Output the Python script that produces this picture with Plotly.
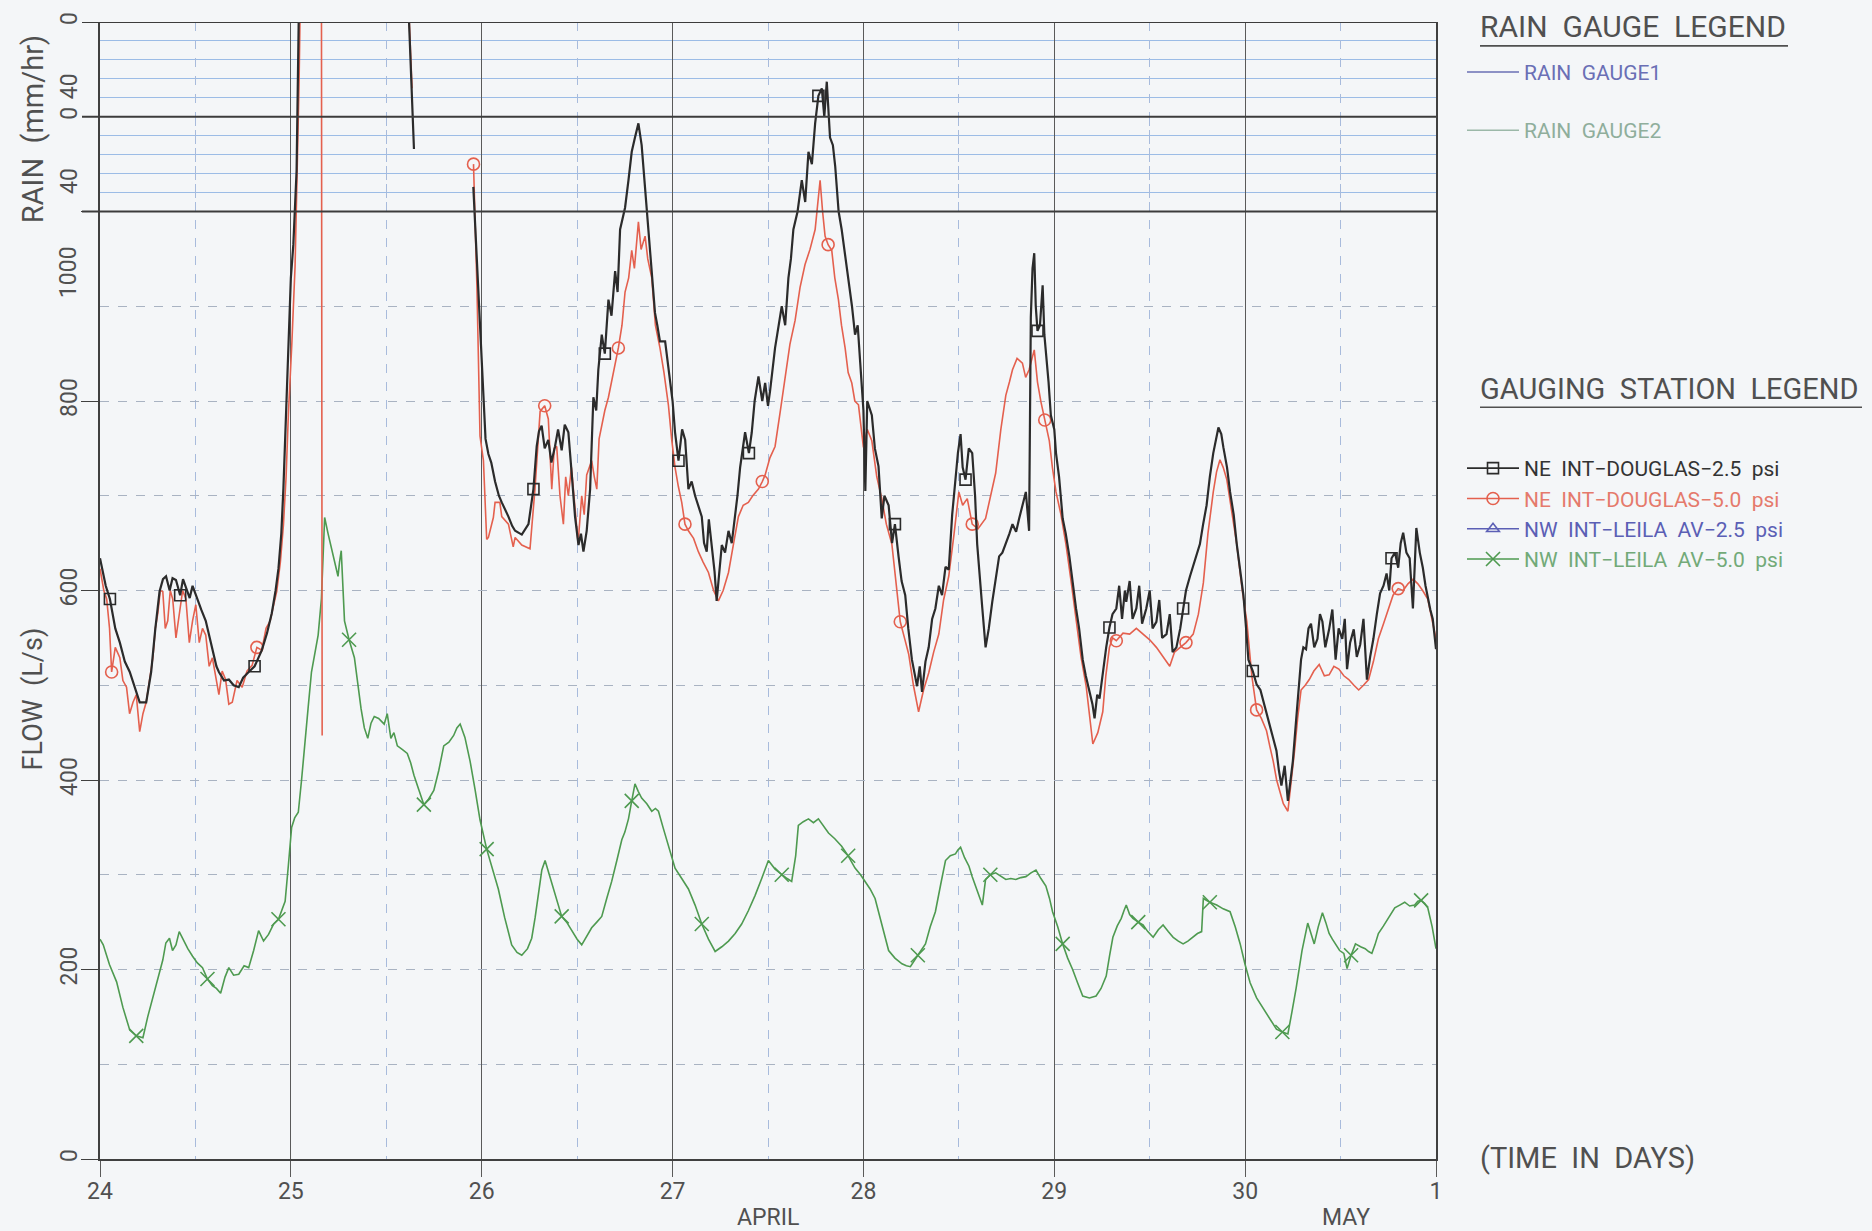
import numpy as np
import plotly.graph_objects as go

# ---------------- data ----------------
# NE INT-DOUGLAS-2.5 psi (black, square markers); None = gap in the record
ne25_day = [
    24.000, 24.030, 24.052, 24.080, 24.104, 24.130, 24.156, 24.185, 24.208, 24.242, 24.268, 24.290,
    24.312, 24.330, 24.346, 24.365, 24.380, 24.398, 24.420, 24.435, 24.450, 24.470, 24.485, 24.502,
    24.530, 24.554, 24.575, 24.589, 24.610, 24.623, 24.650, 24.675, 24.700, 24.727, 24.750, 24.779,
    24.810, 24.848, 24.875, 24.900, 24.920, 24.935, 24.950, 24.961, 24.975, 24.987, 25.000, 25.013,
    25.030, 25.042, 25.060, 25.600, 25.645, None,
    25.956, 25.983, 26.009, 26.020, 26.035, 26.050, 26.070, 26.090, 26.105, 26.125, 26.140, 26.160,
    26.175, 26.210, 26.245, 26.271, 26.288, 26.300, 26.314, 26.330, 26.349, 26.365, 26.384, 26.400,
    26.419, 26.435, 26.454, 26.472, 26.489, 26.507, 26.520, 26.533, 26.550, 26.568, 26.585, 26.600,
    26.611, 26.629, 26.645, 26.664, 26.680, 26.699, 26.712, 26.725, 26.751, 26.769, 26.786, 26.803,
    26.821, 26.838, 26.850, 26.865, 26.882, 26.895, 26.908, 26.920, 26.934, 26.961, 26.975, 26.987,
    27.000, 27.013, 27.031, 27.050, 27.066, 27.083, 27.100, 27.118, 27.135, 27.153, 27.165, 27.179,
    27.190, 27.205, 27.220, 27.231, 27.245, 27.258, 27.275, 27.293, 27.310, 27.328, 27.340, 27.354,
    27.380, 27.400, 27.415, 27.430, 27.450, 27.470, 27.485, 27.500, 27.511, 27.537, 27.555, 27.572,
    27.590, 27.607, 27.620, 27.633, 27.655, 27.677, 27.695, 27.712, 27.730, 27.747, 27.764, 27.782,
    27.795, 27.808, 27.825, 27.840, 27.852, 27.870, 27.886, 27.900, 27.921, 27.940, 27.956, 27.970,
    27.983, 28.000, 28.010, 28.020, 28.044, 28.060, 28.079, 28.096, 28.110, 28.132, 28.150, 28.165,
    28.184, 28.200, 28.219, 28.235, 28.254, 28.268, 28.281, 28.295, 28.307, 28.325, 28.342, 28.360,
    28.377, 28.395, 28.412, 28.430, 28.447, 28.465, 28.482, 28.495, 28.509, 28.520, 28.535, 28.552,
    28.570, 28.585, 28.596, 28.610, 28.623, 28.640, 28.657, 28.675, 28.693, 28.711, 28.728, 28.746,
    28.765, 28.781, 28.800, 28.816, 28.835, 28.851, 28.868, 28.877, 28.886, 28.895, 28.903, 28.912,
    28.925, 28.939, 28.948, 28.956, 28.970, 28.982, 29.000, 29.009, 29.025, 29.044, 29.060, 29.079,
    29.095, 29.114, 29.130, 29.149, 29.165, 29.184, 29.200, 29.211, 29.225, 29.237, 29.255, 29.272,
    29.289, 29.305, 29.325, 29.340, 29.355, 29.370, 29.377, 29.395, 29.410, 29.430, 29.445, 29.460,
    29.482, 29.500, 29.515, 29.535, 29.550, 29.565, 29.588, 29.605, 29.620, 29.640, 29.660, 29.675,
    29.690, 29.711, 29.735, 29.763, 29.780, 29.798, 29.815, 29.833, 29.860, 29.875, 29.886, 29.905,
    29.921, 29.940, 29.956, 29.975, 29.991, 30.005, 30.017, 30.040, 30.060, 30.080, 30.095, 30.112,
    30.129, 30.145, 30.164, 30.177, 30.190, 30.207, 30.224, 30.238, 30.250, 30.267, 30.280, 30.293,
    30.305, 30.319, 30.332, 30.345, 30.362, 30.379, 30.392, 30.405, 30.420, 30.440, 30.457, 30.474,
    30.490, 30.509, 30.522, 30.534, 30.550, 30.569, 30.585, 30.603, 30.620, 30.638, 30.655, 30.672,
    30.690, 30.707, 30.725, 30.741, 30.755, 30.767, 30.785, 30.802, 30.815, 30.828, 30.845, 30.862,
    30.879, 30.897, 30.915, 30.931, 30.945, 30.957, 30.970, 30.983, 31.000,
]
ne25_flow = [
    634, 605, 591, 560, 545, 525, 514, 495, 482, 482, 514, 560,
    599, 612, 615, 600, 613, 611, 595, 612, 603, 592, 605, 595,
    580, 568, 550, 537, 520, 514, 505, 506, 500, 498, 508, 514,
    520, 537, 555, 576, 600, 623, 660, 708, 790, 864, 930, 965,
    1043, 1214, 1300, 1300, 1066, None,
    1026, 907, 796, 760, 744, 735, 715, 700, 693, 685, 678, 668,
    663, 659, 670, 707, 752, 768, 774, 750, 759, 735, 752, 770,
    748, 775, 767, 722, 678, 648, 660, 641, 663, 707, 804, 790,
    833, 870, 850, 907, 890, 937, 915, 981, 1004, 1033, 1063, 1078,
    1093, 1070, 1040, 1004, 959, 935, 893, 880, 863, 863, 840, 826,
    800, 767, 737, 770, 759, 707, 715, 700, 690, 678, 650, 641,
    675, 648, 620, 589, 620, 648, 640, 663, 650, 678, 700, 730,
    767, 745, 767, 800, 826, 800, 819, 795, 811, 856, 880, 900,
    880, 930, 950, 981, 1000, 1033, 1010, 1063, 1050, 1093, 1122, 1130,
    1100, 1137, 1078, 1070, 1048, 1000, 981, 960, 930, 900, 870, 880,
    841, 790, 705, 800, 785, 750, 731, 676, 700, 690, 650, 670,
    636, 610, 595, 560, 527, 510, 499, 520, 493, 525, 540, 570,
    581, 605, 595, 625, 622, 680, 717, 745, 765, 730, 717, 750,
    745, 700, 649, 610, 581, 540, 560, 588, 610, 636, 640, 649,
    660, 670, 662, 676, 690, 704, 663, 888, 940, 956, 900, 874,
    880, 922, 870, 854, 820, 785, 770, 745, 720, 676, 660, 636,
    610, 581, 560, 527, 510, 493, 480, 465, 490, 486, 515, 540,
    561, 575, 581, 605, 570, 600, 588, 610, 570, 581, 605, 565,
    581, 600, 560, 567, 590, 550, 554, 575, 535, 540, 560, 581,
    600, 615, 630, 649, 670, 690, 720, 745, 772, 765, 751, 730,
    704, 680, 649, 620, 595, 560, 527, 515, 501, 495, 484, 470,
    458, 445, 431, 410, 394, 415, 378, 400, 420, 463, 500, 527,
    540, 538, 560, 565, 540, 549, 575, 567, 540, 559, 580, 527,
    560, 549, 570, 517, 545, 559, 530, 543, 570, 506, 530, 549,
    575, 597, 605, 618, 600, 634, 640, 624, 650, 661, 640, 634,
    581, 666, 640, 624, 605, 591, 580, 570, 538,
]

# NE INT-DOUGLAS-5.0 psi (red, circle markers)
ne50_day = [
    24.000, 24.020, 24.035, 24.050, 24.061, 24.080, 24.104, 24.120, 24.139, 24.155, 24.173, 24.190,
    24.208, 24.225, 24.242, 24.260, 24.277, 24.290, 24.303, 24.316, 24.329, 24.342, 24.355, 24.368,
    24.381, 24.398, 24.416, 24.433, 24.450, 24.468, 24.485, 24.502, 24.520, 24.537, 24.554, 24.572,
    24.589, 24.606, 24.623, 24.640, 24.658, 24.675, 24.693, 24.718, 24.745, 24.770, 24.797, 24.822,
    24.848, 24.870, 24.892, 24.910, 24.926, 24.945, 24.961, 24.975, 24.987, 25.005, 25.022, 25.043,
    25.055, 25.160, 25.164, None, 25.600, 25.635, None,
    25.957, 25.975, 25.991, 26.009, 26.026, 26.035, 26.061, 26.070, 26.095, 26.105, 26.140, 26.165,
    26.175, 26.210, 26.253, 26.279, 26.306, 26.330, 26.349, 26.367, 26.380, 26.393, 26.410, 26.428,
    26.440, 26.454, 26.470, 26.489, 26.505, 26.524, 26.537, 26.550, 26.576, 26.590, 26.603, 26.615,
    26.629, 26.645, 26.664, 26.690, 26.716, 26.735, 26.751, 26.770, 26.786, 26.800, 26.821, 26.835,
    26.856, 26.870, 26.891, 26.910, 26.934, 26.955, 26.978, 26.995, 27.013, 27.030, 27.048, 27.065,
    27.083, 27.110, 27.135, 27.160, 27.188, 27.215, 27.240, 27.265, 27.293, 27.320, 27.345, 27.370,
    27.397, 27.420, 27.450, 27.470, 27.485, 27.510, 27.537, 27.565, 27.590, 27.615, 27.642, 27.668,
    27.694, 27.720, 27.747, 27.760, 27.773, 27.786, 27.799, 27.815, 27.834, 27.850, 27.869, 27.885,
    27.904, 27.920, 27.939, 27.955, 27.974, 28.000, 28.020, 28.044, 28.070, 28.096, 28.120, 28.149,
    28.170, 28.193, 28.215, 28.237, 28.262, 28.289, 28.315, 28.342, 28.368, 28.395, 28.420, 28.447,
    28.475, 28.500, 28.520, 28.544, 28.570, 28.600, 28.640, 28.665, 28.693, 28.720, 28.746, 28.765,
    28.781, 28.805, 28.833, 28.850, 28.868, 28.895, 28.912, 28.930, 28.950, 28.974, 28.990, 29.009,
    29.035, 29.061, 29.088, 29.114, 29.140, 29.167, 29.185, 29.202, 29.228, 29.254, 29.270, 29.289,
    29.305, 29.325, 29.360, 29.395, 29.430, 29.465, 29.500, 29.535, 29.570, 29.605, 29.630, 29.658,
    29.690, 29.728, 29.755, 29.781, 29.805, 29.833, 29.850, 29.868, 29.885, 29.904, 29.930, 29.956,
    29.985, 30.009, 30.035, 30.060, 30.085, 30.112, 30.130, 30.147, 30.165, 30.181, 30.200, 30.224,
    30.240, 30.259, 30.275, 30.293, 30.315, 30.336, 30.360, 30.388, 30.415, 30.440, 30.465, 30.491,
    30.517, 30.543, 30.570, 30.595, 30.620, 30.647, 30.672, 30.698, 30.725, 30.750, 30.775, 30.802,
    30.828, 30.853, 30.880, 30.905, 30.930, 30.957, 30.980, 31.000,
]
ne50_flow = [
    623, 600, 591, 560, 514, 540, 529, 505, 498, 470, 482, 490,
    451, 470, 482, 505, 529, 560, 576, 600, 599, 560, 568, 600,
    591, 550, 576, 600, 591, 545, 568, 585, 545, 560, 553, 520,
    529, 510, 490, 515, 506, 480, 482, 505, 498, 515, 521, 540,
    537, 560, 568, 585, 599, 630, 669, 720, 786, 860, 942, 1136,
    1300, 1300, 447, None, 1300, 1130, None,
    1050, 920, 763, 737, 654, 656, 677, 693, 693, 678, 670, 646,
    656, 648, 644, 707, 789, 795, 781, 707, 750, 752, 700, 670,
    720, 700, 730, 685, 650, 700, 680, 722, 737, 720, 707, 760,
    774, 790, 804, 830, 856, 880, 915, 930, 959, 940, 989, 960,
    974, 950, 930, 880, 856, 830, 796, 760, 730, 710, 693, 670,
    663, 655, 641, 630, 619, 600, 589, 600, 619, 650, 678, 690,
    693, 700, 707, 715, 722, 740, 752, 790, 826, 860, 885, 920,
    944, 960, 981, 1010, 1033, 1000, 974, 965, 959, 930, 907, 880,
    856, 830, 819, 800, 796, 751, 770, 758, 720, 697, 670, 649,
    610, 567, 550, 533, 500, 472, 495, 513, 535, 554, 590, 615,
    660, 704, 690, 697, 670, 665, 676, 700, 724, 770, 806, 820,
    833, 845, 840, 825, 833, 854, 820, 799, 780, 758, 730, 704,
    680, 649, 610, 567, 530, 499, 470, 438, 450, 472, 510, 540,
    550, 547, 555, 554, 560, 554, 548, 540, 530, 520, 535, 540,
    545, 554, 575, 608, 660, 704, 725, 738, 730, 717, 685, 649,
    600, 567, 510, 474, 465, 452, 435, 420, 400, 388, 375, 367,
    395, 431, 465, 495, 500, 506, 515, 522, 510, 511, 520, 517,
    510, 506, 500, 495, 500, 506, 525, 549, 565, 581, 595, 602,
    600, 607, 612, 607, 600, 591, 570, 549,
]

# NW INT-LEILA AV-5.0 psi (green, x markers)
nw50_day = [
    24.000, 24.017, 24.050, 24.087, 24.120, 24.156, 24.190, 24.225, 24.250, 24.277, 24.303, 24.329,
    24.345, 24.364, 24.380, 24.398, 24.415, 24.433, 24.460, 24.485, 24.510, 24.537, 24.563, 24.589,
    24.610, 24.632, 24.655, 24.675, 24.700, 24.727, 24.755, 24.779, 24.805, 24.831, 24.857, 24.883,
    24.910, 24.935, 24.952, 24.970, 24.987, 25.004, 25.020, 25.039, 25.056, 25.074, 25.090, 25.108,
    25.125, 25.143, 25.160, 25.177, 25.195, 25.212, 25.230, 25.247, 25.255, 25.264, 25.281, 25.305,
    25.333, 25.350, 25.368, 25.385, 25.403, 25.420, 25.437, 25.460, 25.489, 25.505, 25.524, 25.540,
    25.558, 25.585, 25.610, 25.628, 25.645, 25.670, 25.697, 25.722, 25.749, 25.775, 25.801, 25.828,
    25.853, 25.870, 25.887, 25.912, 25.939, 25.965, 25.991, 26.026, 26.060, 26.087, 26.120, 26.157,
    26.185, 26.210, 26.240, 26.262, 26.280, 26.297, 26.315, 26.332, 26.355, 26.376, 26.398, 26.419,
    26.445, 26.472, 26.500, 26.524, 26.550, 26.576, 26.603, 26.629, 26.655, 26.681, 26.708, 26.734,
    26.750, 26.769, 26.786, 26.803, 26.820, 26.838, 26.865, 26.891, 26.910, 26.926, 26.950, 26.978,
    27.013, 27.048, 27.083, 27.118, 27.153, 27.188, 27.223, 27.258, 27.293, 27.328, 27.362, 27.397,
    27.432, 27.467, 27.502, 27.537, 27.572, 27.600, 27.624, 27.645, 27.659, 27.685, 27.712, 27.738,
    27.764, 27.790, 27.817, 27.850, 27.886, 27.920, 27.956, 27.985, 28.009, 28.035, 28.061, 28.095,
    28.132, 28.165, 28.202, 28.225, 28.246, 28.285, 28.325, 28.350, 28.377, 28.405, 28.430, 28.455,
    28.482, 28.495, 28.509, 28.530, 28.553, 28.570, 28.588, 28.605, 28.623, 28.640, 28.665, 28.693,
    28.720, 28.746, 28.772, 28.798, 28.825, 28.851, 28.878, 28.904, 28.930, 28.956, 28.975, 28.991,
    29.018, 29.044, 29.070, 29.096, 29.122, 29.149, 29.184, 29.219, 29.245, 29.272, 29.290, 29.307,
    29.330, 29.351, 29.365, 29.377, 29.395, 29.412, 29.440, 29.465, 29.490, 29.518, 29.545, 29.570,
    29.597, 29.623, 29.650, 29.675, 29.700, 29.728, 29.750, 29.772, 29.781, 29.815, 29.851, 29.885,
    29.921, 29.948, 29.974, 30.000, 30.026, 30.060, 30.095, 30.130, 30.164, 30.195, 30.224, 30.245,
    30.267, 30.298, 30.328, 30.345, 30.362, 30.383, 30.405, 30.422, 30.440, 30.457, 30.474, 30.495,
    30.517, 30.534, 30.555, 30.578, 30.605, 30.629, 30.647, 30.664, 30.680, 30.698, 30.725, 30.750,
    30.767, 30.784, 30.810, 30.836, 30.862, 30.888, 30.905, 30.922, 30.940, 30.957, 30.980, 31.000,
]
nw50_flow = [
    232, 226, 205, 187, 160, 136, 130, 128, 150, 171, 192, 210,
    228, 233, 220, 226, 240, 233, 222, 214, 207, 202, 190, 183,
    180, 175, 192, 202, 194, 195, 204, 202, 220, 241, 230, 237,
    248, 253, 262, 272, 310, 350, 360, 366, 400, 436, 475, 514,
    535, 553, 591, 677, 660, 646, 630, 615, 630, 642, 568, 548,
    529, 500, 475, 455, 444, 460, 467, 465, 459, 470, 444, 450,
    436, 432, 428, 418, 405, 390, 374, 380, 389, 410, 436, 440,
    447, 455, 459, 445, 420, 390, 358, 327, 305, 285, 255, 226,
    218, 215, 222, 233, 255, 278, 305, 315, 300, 285, 270, 256,
    250, 241, 232, 226, 235, 244, 250, 256, 275, 293, 315, 337,
    345, 359, 378, 396, 388, 381, 375, 367, 370, 367, 350, 330,
    307, 296, 285, 268, 248, 232, 219, 224, 230, 238, 248, 262,
    278, 296, 315, 306, 300, 296, 293, 320, 352, 356, 359, 355,
    359, 352, 344, 338, 330, 320, 307, 300, 293, 285, 275, 248,
    220, 212, 206, 204, 203, 215, 227, 245, 261, 290, 315, 320,
    322, 326, 329, 318, 309, 298, 288, 280, 268, 295, 300, 302,
    298, 295, 296, 295, 297, 298, 302, 305, 296, 288, 275, 261,
    245, 227, 212, 200, 186, 172, 170, 172, 180, 193, 215, 234,
    246, 254, 262, 268, 258, 254, 250, 247, 240, 234, 242, 247,
    240, 234, 230, 227, 230, 234, 238, 240, 275, 271, 268, 264,
    261, 245, 227, 205, 186, 170, 159, 147, 137, 134, 132, 155,
    180, 220, 249, 238, 227, 245, 260, 250, 238, 232, 227, 220,
    217, 201, 215, 227, 224, 222, 219, 217, 226, 238, 246, 254,
    260, 265, 268, 271, 267, 268, 272, 273, 270, 265, 245, 222,
]

# symbol positions (days) along each record
ne25_marker_days = [24.05, 24.42, 24.80, 26.27, 26.64, 27.03, 27.40, 27.76, 28.17, 28.53, 28.912,
                    29.29, 29.67, 30.04, 30.77]
ne50_marker_days = [24.06, 24.82, 25.957, 26.32, 26.72, 27.07, 27.46, 27.82, 28.19, 28.58, 28.94,
                    29.32, 29.70, 30.07, 30.80]
nw50_marker_days = [24.18, 24.55, 24.93, 25.30, 25.69, 26.04, 26.43, 26.79, 27.17, 27.56, 27.92,
                    28.29, 28.67, 29.05, 29.44, 29.81, 30.18, 30.55, 30.92]

# axis tick labels
day_tick_vals = [24, 25, 26, 27, 28, 29, 30, 31]
day_tick_text = ["24", "25", "26", "27", "28", "29", "30", "1"]
half_day_vals = [24.5, 25.5, 26.5, 27.5, 28.5, 29.5, 30.5]
flow_tick_vals = [0, 200, 400, 600, 800, 1000]
flow_tick_text = ["0", "200", "400", "600", "800", ""]
flow_minor_vals = [100, 300, 500, 700, 900]
rain_tick_vals = [0, 40]
rain_tick_text = ["0", "40"]
rain_max = 56
rain_grid_vals = [0, 11.2, 22.4, 33.6, 44.8]
flow_max = 1200
panel_edges = [1000, 1100, 1200]

# ---------------- styling ----------------
FONT = "Liberation Sans Narrow, Roboto, Liberation Sans, sans-serif"
TXT = "#505050"
BLACK = "#2b2b2b"
RED = "#e4604e"
GREEN = "#4e9a50"
BLUE = "#5b5fb5"
GRID_DASH = "#a9b3c2"
RAIN_GRID = "#9cbce6"
DAY_LINE = "#5a5a5a"
HALF_LINE = "#a8bbdc"
BG = "#f4f6f8"


def marker_points(days, flows, wanted):
    d = np.array([np.nan if v is None else v for v in days], dtype=float)
    f = np.array([np.nan if v is None else v for v in flows], dtype=float)
    xs, ys = [], []
    for w in wanted:
        dist = np.abs(d - w)
        dist[np.isnan(f)] = np.inf
        i = int(np.argmin(dist))
        xs.append(d[i])
        ys.append(f[i])
    return xs, ys


fig = go.Figure()

# rain gauge legend entries (no rainfall recorded in the window)
fig.add_trace(go.Scatter(x=[None], y=[None], mode="lines", yaxis="y", xaxis="x",
                         line=dict(color="#6a6fb5", width=1.5),
                         name='<span style="color:#6a6fb5">RAIN\u00a0\u00a0GAUGE1</span>',
                         legend="legend2", legendgroup="g1"))
fig.add_trace(go.Scatter(x=[None], y=[None], mode="lines", yaxis="y2", xaxis="x",
                         line=dict(color="#9bb8a8", width=1.5),
                         name='<span style="color:#8fae9c">RAIN\u00a0\u00a0GAUGE2</span>',
                         legend="legend2", legendgroup="g2"))

series = [
    (ne25_day, ne25_flow, ne25_marker_days, BLACK, 2.2, "square-open", 11,
     '<span style="color:#333333">NE\u00a0\u00a0INT\u2212DOUGLAS\u22122.5\u00a0\u00a0psi</span>'),
    (ne50_day, ne50_flow, ne50_marker_days, RED, 1.6, "circle-open", 12,
     '<span style="color:#e57a6c">NE\u00a0\u00a0INT\u2212DOUGLAS\u22125.0\u00a0\u00a0psi</span>'),
    (nw50_day, nw50_flow, nw50_marker_days, GREEN, 1.6, "x-thin-open", 14,
     '<span style="color:#72aa78">NW\u00a0\u00a0INT\u2212LEILA\u00a0\u00a0AV\u22125.0\u00a0\u00a0psi</span>'),
]

# flow lines (drawn order: green, red, black on top)
for d, f, md, col, w, sym, ms, nm in [series[2], series[1], series[0]]:
    fig.add_trace(go.Scatter(x=d, y=f, mode="lines", yaxis="y3", xaxis="x",
                             line=dict(color=col, width=w), showlegend=False,
                             connectgaps=False, hoverinfo="skip"))
    mx, my = marker_points(d, f, md)
    fig.add_trace(go.Scatter(x=mx, y=my, mode="markers", yaxis="y3", xaxis="x",
                             marker=dict(symbol=sym, size=ms, color=col,
                                         line=dict(color=col, width=1.6)),
                             showlegend=False, hoverinfo="skip"))

# gauging station legend entries
legend_rows = [
    (BLACK, "square-open", 11, series[0][7]),
    (RED, "circle-open", 12, series[1][7]),
    (BLUE, "triangle-up-open", 11,
     '<span style="color:#5b5fb5">NW\u00a0\u00a0INT\u2212LEILA\u00a0\u00a0AV\u22122.5\u00a0\u00a0psi</span>'),
    (GREEN, "x-thin-open", 14, series[2][7]),
]
for col, sym, ms, nm in legend_rows:
    fig.add_trace(go.Scatter(x=[None], y=[None], mode="lines+markers", yaxis="y3", xaxis="x",
                             line=dict(color=col, width=1.6),
                             marker=dict(symbol=sym, size=ms, color=col, line=dict(color=col, width=1.6)),
                             name=nm, legend="legend"))

# ---------------- layout ----------------
L, R, T, B = 100, 436, 14, 72
W, H = 1872, 1231
ph = H - T - B
pw = W - L - R


def py(full_y):
    return (H - B - full_y) / ph


def px(full_x):
    return (full_x - L) / pw


rain_axis_common = dict(
    range=[rain_max, 0], tickmode="array", tickvals=rain_tick_vals, ticktext=rain_tick_text,
    tickangle=-90, tickfont=dict(family=FONT, size=23, color=TXT), ticks="",
    showgrid=False, zeroline=False, showline=False,
    minor=dict(tickvals=rain_grid_vals, showgrid=True, gridcolor=RAIN_GRID, gridwidth=1.2, ticks=""),
    fixedrange=True, anchor="x", ticklabelstandoff=17,
)

fig.update_layout(
    width=W, height=H,
    margin=dict(l=L, r=R, t=T, b=B, pad=0),
    paper_bgcolor=BG, plot_bgcolor="rgba(0,0,0,0)",
    font=dict(family=FONT, color=TXT),
    xaxis=dict(
        range=[24, 31], tickmode="array", tickvals=day_tick_vals, ticktext=day_tick_text,
        tickfont=dict(family=FONT, size=23, color=TXT), ticks="outside", ticklen=16,
        tickwidth=1.3, tickcolor=DAY_LINE,
        showgrid=True, gridcolor=DAY_LINE, gridwidth=1.3,
        minor=dict(tickvals=half_day_vals, showgrid=True, gridcolor=HALF_LINE, griddash="dash",
                   gridwidth=1.3, ticks=""),
        showline=True, linecolor="#404040", linewidth=1.8, zeroline=False, anchor="y3",
        ticklabelstandoff=-6,
    ),
    yaxis=dict(domain=[1100 / 1200, 1.0], **rain_axis_common),
    yaxis2=dict(domain=[1000 / 1200, 1100 / 1200], **rain_axis_common),
    yaxis3=dict(
        domain=[0, 1], range=[0, flow_max], tickmode="array", tickvals=flow_tick_vals,
        ticktext=flow_tick_text, tickangle=-90, tickfont=dict(family=FONT, size=23, color=TXT),
        ticks="outside", ticklen=17, tickwidth=1.3, tickcolor="#404040",
        showgrid=True, gridcolor=GRID_DASH, griddash="dash", gridwidth=1.2,
        minor=dict(tickvals=flow_minor_vals, showgrid=True, gridcolor=GRID_DASH, griddash="dash",
                   gridwidth=1.2, ticks=""),
        showline=True, mirror=True, linecolor="#404040", linewidth=1.8, zeroline=False,
        anchor="x", ticklabelstandoff=-5,
    ),
    showlegend=True,
    legend=dict(x=px(1462), y=py(443), xanchor="left", yanchor="top", bgcolor="rgba(0,0,0,0)",
                font=dict(family=FONT, size=21), tracegroupgap=0, itemwidth=52,
                itemclick=False, itemdoubleclick=False),
    legend2=dict(x=px(1462), y=py(44), xanchor="left", yanchor="top", bgcolor="rgba(0,0,0,0)",
                 font=dict(family=FONT, size=21), tracegroupgap=28, itemwidth=52,
                 itemclick=False, itemdoubleclick=False),
)

# panel boundaries of the rain strips (with their tick stubs)
for e in panel_edges:
    fig.add_shape(type="line", xref="paper", yref="y3", x0=px(82), x1=1, y0=e, y1=e,
                  line=dict(color="#3c3c3c", width=1.8), layer="above")


def txt(size):
    return dict(family=FONT, size=size, color=TXT)


fig.add_annotation(text="1000", xref="paper", yref="y3", x=px(68), y=936, textangle=-90,
                   xanchor="center", yanchor="middle", showarrow=False, font=txt(23))
fig.add_annotation(text="FLOW\u00a0\u00a0(L/s)", xref="paper", yref="y3", x=px(33), y=485, textangle=-90,
                   xanchor="center", yanchor="middle", showarrow=False, font=txt(27))
fig.add_annotation(text="RAIN\u00a0\u00a0(mm/hr)", xref="paper", yref="paper", x=px(33), y=py(122),
                   textangle=-90, xanchor="center", yanchor="middle", showarrow=False, font=txt(29))
fig.add_annotation(text="APRIL", xref="x", yref="paper", x=27.5, y=py(1218), xanchor="center",
                   yanchor="middle", showarrow=False, font=txt(23))
fig.add_annotation(text="MAY", xref="x", yref="paper", x=30.53, y=py(1218), xanchor="center",
                   yanchor="middle", showarrow=False, font=txt(23))
fig.add_annotation(text="(TIME\u00a0\u00a0IN\u00a0\u00a0DAYS)", xref="paper", yref="paper", x=px(1478),
                   y=py(1158), xanchor="left", yanchor="middle", showarrow=False, font=txt(29))
fig.add_annotation(text="RAIN\u00a0\u00a0GAUGE\u00a0\u00a0LEGEND", xref="paper", yref="paper", x=px(1478),
                   y=py(19), xanchor="left", yanchor="middle", showarrow=False, font=txt(30))
fig.add_annotation(text="GAUGING\u00a0\u00a0STATION\u00a0\u00a0LEGEND", xref="paper", yref="paper",
                   x=px(1478), y=py(384), xanchor="left", yanchor="middle", showarrow=False, font=txt(29))
fig.add_shape(type="line", xref="paper", yref="paper", x0=px(1480), x1=px(1788), y0=py(38), y1=py(38),
              line=dict(color=TXT, width=1.6))
fig.add_shape(type="line", xref="paper", yref="paper", x0=px(1480), x1=px(1862), y0=py(402), y1=py(402),
              line=dict(color=TXT, width=1.6))

fig.write_html("out.html", config={"displayModeBar": False},
               post_script="document.body.style.margin='0';")
